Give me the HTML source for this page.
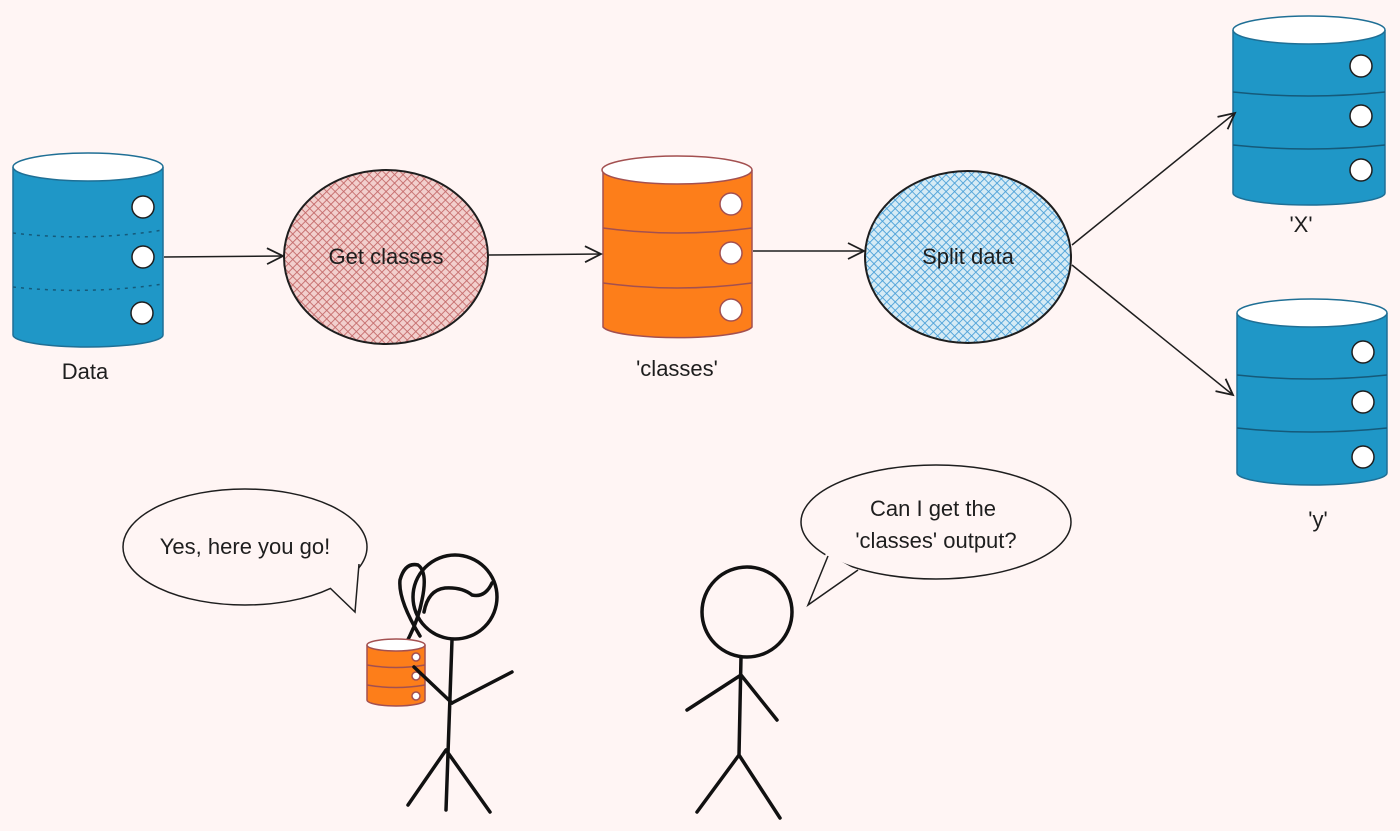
<!DOCTYPE html>
<html><head><meta charset="utf-8"><style>
html,body{margin:0;padding:0;background:#fff5f4}
svg{display:block}
text{font-family:"Liberation Sans",sans-serif;fill:#1e1e1e}
</style></head><body>
<svg width="1400" height="831" viewBox="0 0 1400 831" xmlns="http://www.w3.org/2000/svg">
<defs>
<pattern id="red" width="6" height="6" patternUnits="userSpaceOnUse" patternTransform="rotate(45)">
<rect width="6" height="6" fill="#f2cfcd"/><path d="M0 0V6M0 0H6" stroke="#c46a6a" stroke-width="1.8"/></pattern>
<pattern id="blue" width="6" height="6" patternUnits="userSpaceOnUse" patternTransform="rotate(45)">
<rect width="6" height="6" fill="#d6ebf5"/><path d="M0 0V6M0 0H6" stroke="#4aa0d8" stroke-width="1.8"/></pattern>
<marker id="ah" markerWidth="20" markerHeight="20" refX="18" refY="10" orient="auto" markerUnits="userSpaceOnUse">
<path d="M2 2L18 10L2 18" fill="none" stroke="#1e1e1e" stroke-width="1.8"/></marker>
</defs>
<g stroke="#1e1e1e" stroke-width="1.5" fill="none">
<path d="M13 167V335A75 12 0 0 0 163 335V167" fill="#1f97c7" stroke="#1f6f95"/>
<ellipse cx="88" cy="167" rx="75" ry="14" fill="#fff" stroke="#1f6f95"/>
<path d="M13 233Q88 242 163 230M13 287Q88 295 163 284" stroke="#155a7a" stroke-dasharray="3 5"/>
<circle cx="143" cy="207" r="11" fill="#fff"/><circle cx="143" cy="257" r="11" fill="#fff"/><circle cx="142" cy="313" r="11" fill="#fff"/>

<path d="M603 170V327A75 12 0 0 0 752 327V170" fill="#fd7e1a" stroke="#a35050"/>
<ellipse cx="677" cy="170" rx="75" ry="14" fill="#fff" stroke="#a35050"/>
<path d="M603 228Q677 238 752 228M603 283Q677 293 752 283" stroke="#a35050"/>
<circle cx="731" cy="204" r="11" fill="#fff" stroke="#a35050"/><circle cx="731" cy="253" r="11" fill="#fff" stroke="#a35050"/><circle cx="731" cy="310" r="11" fill="#fff" stroke="#a35050"/>

<path d="M1233 30V193A76 12 0 0 0 1385 193V30" fill="#1f97c7" stroke="#1f6f95"/>
<ellipse cx="1309" cy="30" rx="76" ry="14" fill="#fff" stroke="#1f6f95"/>
<path d="M1233 92Q1309 100 1385 92M1233 145Q1309 153 1385 145" stroke="#155a7a"/>
<circle cx="1361" cy="66" r="11" fill="#fff"/><circle cx="1361" cy="116" r="11" fill="#fff"/><circle cx="1361" cy="170" r="11" fill="#fff"/>

<path d="M1237 313V473A75 12 0 0 0 1387 473V313" fill="#1f97c7" stroke="#1f6f95"/>
<ellipse cx="1312" cy="313" rx="75" ry="14" fill="#fff" stroke="#1f6f95"/>
<path d="M1237 375Q1312 383 1387 375M1237 428Q1312 436 1387 428" stroke="#155a7a"/>
<circle cx="1363" cy="352" r="11" fill="#fff"/><circle cx="1363" cy="402" r="11" fill="#fff"/><circle cx="1363" cy="457" r="11" fill="#fff"/>

<ellipse cx="386" cy="257" rx="102" ry="87" fill="url(#red)" stroke-width="2"/>
<ellipse cx="968" cy="257" rx="103" ry="86" fill="url(#blue)" stroke-width="2"/>

<path d="M164 257L283 256" marker-end="url(#ah)"/>
<path d="M489 255L601 254" marker-end="url(#ah)"/>
<path d="M753 251L864 251" marker-end="url(#ah)"/>
<path d="M1072 245L1235 113" marker-end="url(#ah)"/>
<path d="M1072 265L1233 395" marker-end="url(#ah)"/>

<ellipse cx="245" cy="547" rx="122" ry="58" fill="#fff5f4"/>
<path d="M328 586L355 612L359 561Z" fill="#fff5f4" stroke="none"/>
<path d="M330 588L355 612L359 564"/>
<ellipse cx="936" cy="522" rx="135" ry="57" fill="#fff5f4"/>
<path d="M826 553L808 605L860 572Z" fill="#fff5f4" stroke="none"/>
<path d="M828 556L808 605L858 570"/>

<g stroke="#111" stroke-width="3.5" stroke-linecap="round" stroke-linejoin="round">
<circle cx="455" cy="597" r="42"/>
<path d="M424 612Q428 590 445 588Q462 587 472 595Q485 598 492 583"/>
<path d="M420 636Q398 600 400 580Q405 562 418 565Q428 572 422 600Q418 622 405 645"/>
<path d="M452 640L446 810M446 750L408 805M446 750L490 812M452 703L512 672"/>
</g>
<path d="M367 645V700A29 6 0 0 0 425 700V645" fill="#fd7e1a" stroke="#a35050"/>
<ellipse cx="396" cy="645" rx="29" ry="6" fill="#fff" stroke="#a35050"/>
<path d="M367 665Q396 670 425 665M367 685Q396 690 425 685" stroke="#a35050"/>
<circle cx="416" cy="657" r="4" fill="#fff" stroke="#a35050"/><circle cx="416" cy="676" r="4" fill="#fff" stroke="#a35050"/><circle cx="416" cy="696" r="4" fill="#fff" stroke="#a35050"/>
<path d="M414 667L452 703" stroke="#111" stroke-width="3.5" stroke-linecap="round"/>

<g stroke="#111" stroke-width="3.5" stroke-linecap="round">
<circle cx="747" cy="612" r="45"/>
<path d="M741 657L739 755M741 675L687 710M741 675L777 720M739 755L697 812M739 755L780 818"/>
</g>
</g>
<g font-size="22">
<text x="85" y="379" text-anchor="middle">Data</text>
<text x="386" y="264" text-anchor="middle">Get classes</text>
<text x="677" y="376" text-anchor="middle">'classes'</text>
<text x="968" y="264" text-anchor="middle">Split data</text>
<text x="1301" y="232" text-anchor="middle">'X'</text>
<text x="1318" y="527" text-anchor="middle">'y'</text>
<text x="245" y="554" text-anchor="middle">Yes, here you go!</text>
<text x="933" y="516" text-anchor="middle">Can I get the</text>
<text x="936" y="548" text-anchor="middle">'classes' output?</text>
</g>
</svg>
</body></html>
